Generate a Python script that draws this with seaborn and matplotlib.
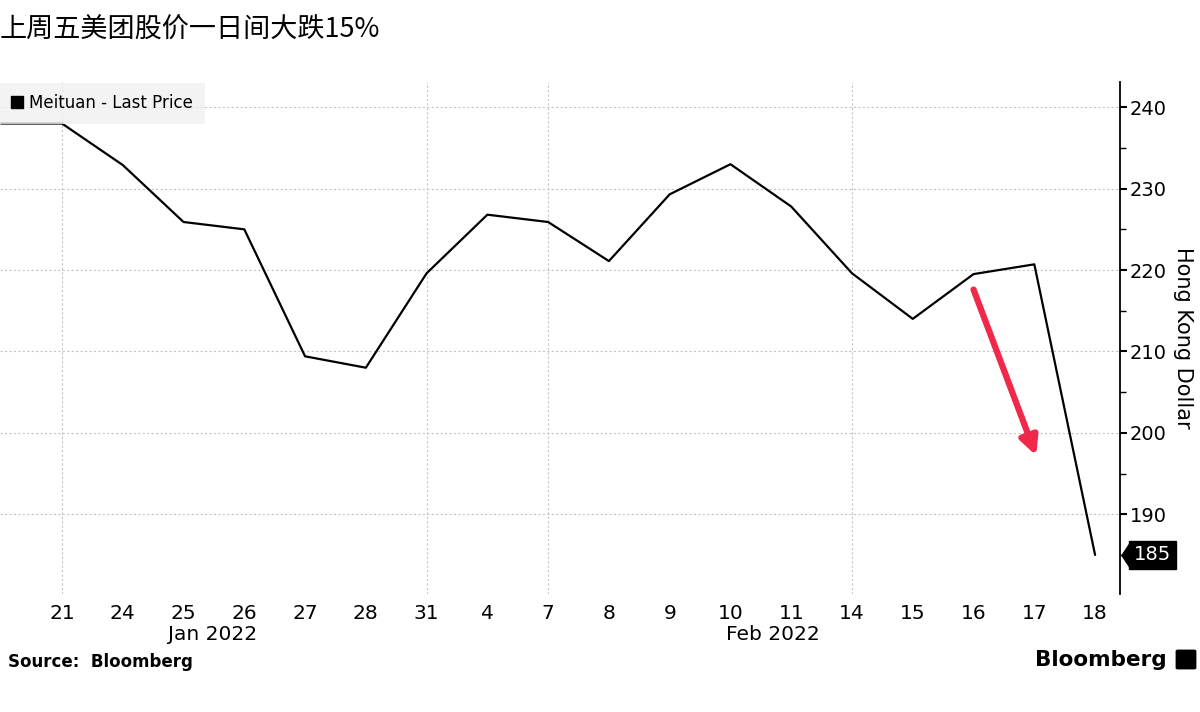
import numpy as np
import pandas as pd
import matplotlib
matplotlib.use('Agg')
import matplotlib.pyplot as plt
import matplotlib.transforms as mtransforms
from matplotlib.lines import Line2D
from matplotlib.patches import FancyBboxPatch
import seaborn as sns

# Meituan last price (HKD)
dates = ['2022-01-20', '2022-01-21', '2022-01-24', '2022-01-25', '2022-01-26',
         '2022-01-27', '2022-01-28', '2022-01-31', '2022-02-04', '2022-02-07',
         '2022-02-08', '2022-02-09', '2022-02-10', '2022-02-11', '2022-02-14',
         '2022-02-15', '2022-02-16', '2022-02-17', '2022-02-18']
prices = [238.0, 238.0, 232.9, 225.9, 225.0, 209.4, 208.0, 219.6, 226.8, 225.9,
          221.1, 229.3, 233.0, 227.8, 219.6, 214.0, 219.5, 220.7, 185.0]
yticks = [190, 200, 210, 220, 230, 240]
grid_dates = ['2022-01-21', '2022-01-31', '2022-02-07', '2022-02-14']
last_label = '185'

df = pd.DataFrame({'date': pd.to_datetime(dates), 'price': prices})
df['pos'] = np.arange(len(df))

sns.set_theme(style='white')
plt.rcParams['font.family'] = ['DejaVu Sans', 'Noto Sans CJK SC']
plt.rcParams['text.color'] = 'black'
plt.rcParams['xtick.color'] = 'black'
plt.rcParams['ytick.color'] = 'black'
plt.rcParams['axes.labelcolor'] = 'black'

fig = plt.figure(figsize=(12, 7.12), dpi=100)
ax = fig.add_axes([0.0, 1 - 594 / 712, 1120 / 1200, 512 / 712])

sns.lineplot(data=df, x='pos', y='price', ax=ax, color='black', linewidth=1.6)

ax.set_xlim(-0.02, 18.41)
ax.set_ylim(180.2, 243.1)

# x ticks: day numbers, skip the first (hidden) point
tick_df = df.iloc[1:]
ax.set_xticks(tick_df['pos'])
ax.set_xticklabels([str(d.day) for d in tick_df['date']], fontsize=14.5)
ax.tick_params(axis='x', length=0, pad=7)
ax.set_xlabel('')

# month labels
xtr = mtransforms.blended_transform_factory(ax.transData, ax.transAxes)
ax.text(3.47, -0.08, 'Jan 2022', transform=xtr, ha='center', va='center', fontsize=14.5)
ax.text(12.7, -0.08, 'Feb 2022', transform=xtr, ha='center', va='center', fontsize=14.5)

# y axis on the right
ax.yaxis.tick_right()
ax.set_yticks(yticks)
ax.set_yticks([185, 195, 205, 215, 225, 235], minor=True)
ax.tick_params(axis='y', which='major', labelsize=14, length=5, width=1.5, pad=2,
               direction='out', right=True, left=False)
ax.tick_params(axis='y', which='minor', length=4, width=1, direction='out',
               right=True, left=False)
ax.yaxis.set_label_position('right')
ax.set_ylabel('Hong Kong Dollar', rotation=270, fontsize=15, va='center', ha='center')
ax.yaxis.set_label_coords(1.056, 0.5)

for s in ['top', 'left', 'bottom']:
    ax.spines[s].set_visible(False)
ax.spines['right'].set_color('black')
ax.spines['right'].set_linewidth(1.3)

# grid
for y in yticks:
    ax.axhline(y, color='#c4c4c4', linewidth=0.8, linestyle=(0, (2, 2)), zorder=0)
for g in grid_dates:
    p = df.loc[df['date'] == pd.Timestamp(g), 'pos'].iloc[0]
    ax.axvline(p, color='#c4c4c4', linewidth=0.8, linestyle=(0, (2, 2)), zorder=0)

# legend
handle = Line2D([], [], marker='s', color='black', linestyle='none', markersize=8)
leg = ax.legend([handle], ['Meituan - Last Price'], loc='upper left', bbox_to_anchor=(0.0, 0.999),
                borderaxespad=0, frameon=True, fancybox=False, fontsize=12,
                handlelength=0.7, handletextpad=0.35, borderpad=0.7)
leg.get_frame().set_facecolor('#f0f0f0')
leg.get_frame().set_edgecolor('none')

# last value tag: narrow pointer + black box
ytr = mtransforms.blended_transform_factory(ax.transAxes, ax.transData)
ax.plot([1.0048], [prices[-1]], marker=[(-1, 0), (1, 3), (1, -3)], markersize=19,
        color='black', transform=ytr, clip_on=False, markeredgewidth=0, zorder=5)
ax.text(1.0125, prices[-1], last_label, transform=ytr, ha='left', va='center', fontsize=14,
        color='white', bbox=dict(boxstyle='square,pad=0.25', facecolor='black', edgecolor='black'),
        clip_on=False, zorder=6)

# red arrow
ax.annotate('', xy=(17.03, 197.2), xytext=(16.0, 217.6),
            arrowprops=dict(arrowstyle='-|>,head_length=0.9,head_width=0.45',
                            color='#f0284a', linewidth=4.5, shrinkA=0, shrinkB=0))

# title and footer
fig.text(0.0, 1 - 30 / 712, '上周五美团股价一日间大跌15%', fontsize=19.5, ha='left', va='center',
         family=['Noto Sans CJK SC', 'DejaVu Sans'])
fig.text(8 / 1200, 1 - 662 / 712, 'Source:  Bloomberg', fontsize=12, fontweight='bold',
         ha='left', va='center')
fig.text(1167 / 1200, 1 - 660 / 712, 'Bloomberg', fontsize=15.5, fontweight='bold',
         ha='right', va='center')
fig.patches.append(FancyBboxPatch((1178 / 1200, 1 - 668 / 712), 16 / 1200, 17 / 712,
                                  boxstyle='round,pad=0.002', facecolor='black', edgecolor='none',
                                  transform=fig.transFigure, figure=fig))

fig.savefig('out.png', dpi=100)
